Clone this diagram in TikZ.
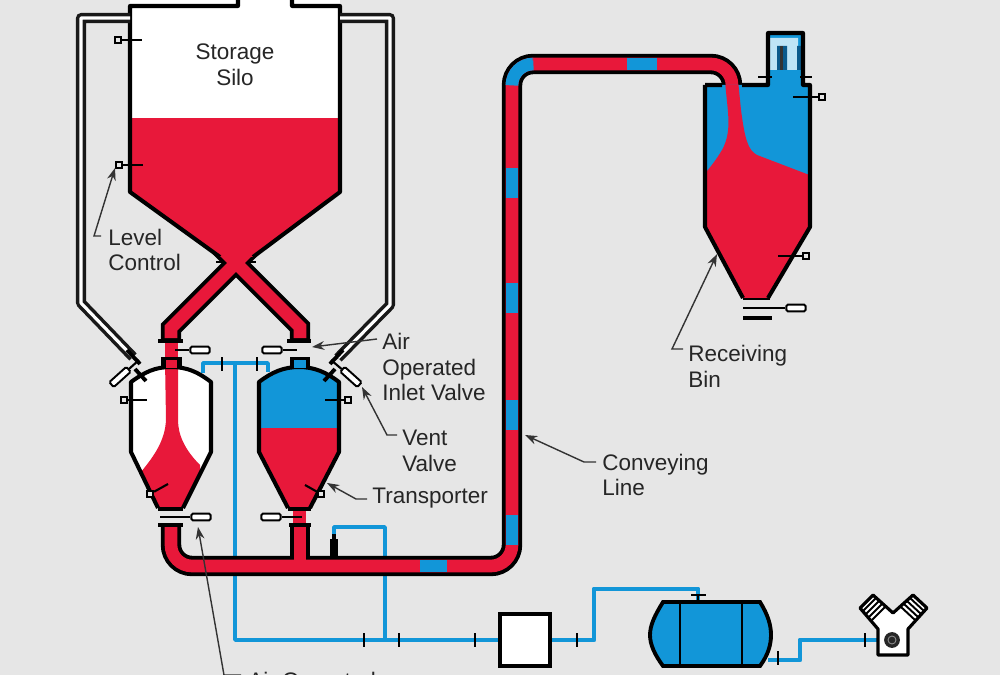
\documentclass[tikz,border=0pt]{standalone}
\usepackage{fontspec}
\setmainfont{Liberation Sans}
\usepackage{xcolor}
\usetikzlibrary{arrows.meta}
\definecolor{panelgray}{RGB}{230,230,230}
\definecolor{solidsred}{RGB}{232,24,58}
\definecolor{airblue}{RGB}{18,150,216}
\definecolor{filterblue}{RGB}{190,228,246}
\definecolor{darkblue}{RGB}{10,90,140}

\begin{document}
\begin{tikzpicture}[x=0.02cm,y=-0.02cm,
    pipeouter/.style={line width=11.6pt,black,line join=miter},
    pipeinner/.style={line width=7.2pt,solidsred,line join=miter},
    pipeair/.style={line width=7.2pt,airblue},
    ventouter/.style={line width=5.8pt,black!90,line join=round},
    ventinner/.style={line width=1.8pt,white,line join=round},
    wall/.style={draw=black,line width=2.3pt,line join=round},
    flange/.style={line width=2.2pt,black},
    rod/.style={line width=1.2pt,black},
    airline/.style={line width=2pt,airblue,line join=round},
    airmain/.style={line width=2.8pt,airblue,line join=round},
    breakmark/.style={rectangle,fill=black,minimum width=1.4pt,minimum height=8.5pt,inner sep=0pt},
    valvebox/.style={rectangle,draw,fill=white,line width=1.1pt,rounded corners=0.8pt,minimum width=11pt,minimum height=3.8pt,inner sep=0pt},
    sensorbox/.style={rectangle,draw,fill=panelgray,line width=1.1pt,minimum size=3.6pt,inner sep=0pt},
    label/.style={font=\fontsize{12.8}{14.7}\selectfont,align=left,anchor=west,inner sep=0pt,text=black!85},
    leader/.style={line width=0.8pt,black!80,-{Stealth[length=7pt,width=5pt]}}]

    \useasboundingbox (0,0) rectangle (1000,675);
    \clip (0,0) rectangle (1000,675);
    \fill[panelgray] (0,0) rectangle (1000,675);

    % Air supply
    \coordinate (tanktop) at (698,602);
    \coordinate (tankout) at (768,660);
    \coordinate (compin) at (878,640);
    \coordinate (regtop) at (334,535);
    \node[rectangle,draw=black,fill=white,line width=2.2pt,minimum width=28.5pt,minimum height=30pt,inner sep=0pt] (filterbox) at (525,640) {};
    \draw[airline] (203,373) -- (203,363) -- (268,363) -- (268,372);
    \draw[airline] (235,363) -- (235,640) -- (385,640);
    \draw[airline] (regtop) -- (334,527) -- (385,527) -- (385,640);
    \draw[airmain] (385,640) -- (filterbox.west);
    \draw[airmain] (filterbox.east) -- (594,640) -- (594,589) -- (698,589) -- (tanktop);
    \draw[airmain] (tankout) -- (800,660) -- (800,640) -- (compin);
    \foreach \nm/\xx/\yy in {ba/222/364,bb/257/364,bc/364/640,bd/399/640,be/475/640,bf/577/640,bg/778/658,bh/865/640}
        \node[breakmark] (\nm) at (\xx,\yy) {};

    % Conveying line
    \foreach \linestyle in {pipeouter,pipeinner}{
        \draw[\linestyle,rounded corners=12pt] (171,525) -- (171,566) -- (512,566) -- (512,64) -- (732,64) -- (732,88);
        \draw[\linestyle] (300,525) -- (300,566);
    }
    \foreach \yy in {168,283,400,515}
        \fill[airblue] (505.6,\yy) rectangle (518.4,\yy+30);
    \fill[airblue] (420,559.6) rectangle (447,572.4);
    \fill[airblue] (627,57.6) rectangle (657,70.4);
    \draw[pipeair,rounded corners=12pt] (512,82) -- (512,64) -- (533,64);

    % Storage silo
    \draw[pipeouter] (252,247) -- (171,328) -- (171,340);
    \draw[pipeouter] (220,247) -- (300,327) -- (300,340);
    \begin{scope}
        \clip (130,0) -- (340,0) -- (340,192) -- (253,257) -- (220,257) -- (130,192) -- cycle;
        \fill[white] (130,0) rectangle (340,118);
        \fill[solidsred] (130,118) rectangle (340,270);
    \end{scope}
    \draw[pipeinner] (252,247) -- (171,328) -- (171,338);
    \draw[pipeinner] (220,247) -- (300,327) -- (300,338);
    \draw[wall] (220,257) -- (130,192) -- (130,6) -- (238,6) -- (238,-3);
    \draw[wall] (292,-3) -- (292,6) -- (340,6) -- (340,192) -- (253,257);
    \node[label,align=center,anchor=center] (silo) at (235,65) {Storage\\Silo};
    \draw[rod] (216,262) -- (223,262) (249,262) -- (256,262);

    % Vent lines
    \foreach \linestyle in {ventouter,ventinner}{
        \draw[\linestyle] (130,18) -- (81,18) -- (81,303) -- (133,357);
        \draw[\linestyle] (340,18) -- (390,18) -- (390,305) -- (338,358);
    }

    % Left transporter
    \begin{scope}
        \clip (131,452) -- (131,382) .. controls (145,372) and (155,367) .. (171,367) .. controls (187,367) and (198,372) .. (211,382) -- (211,452) -- (183,508) -- (158,508) -- cycle;
        \fill[white] (125,360) rectangle (215,510);
        \fill[solidsred] (165,360) -- (166,420) .. controls (165,440) and (155,455) .. (141,472) -- (141,510) -- (200,510) -- (200,465) .. controls (185,450) and (178,435) .. (178,420) -- (178,360) -- cycle;
    \end{scope}
    \draw[wall] (158,508) -- (131,452) -- (131,382) .. controls (145,372) and (155,367) .. (171,367) .. controls (187,367) and (198,372) .. (211,382) -- (211,452) -- (183,508);

    % Right transporter
    \begin{scope}
        \clip (259,452) -- (259,382) .. controls (272,372) and (284,367) .. (299,367) .. controls (314,367) and (326,372) .. (339,382) -- (339,452) -- (310,508) -- (288,508) -- cycle;
        \fill[airblue] (255,360) rectangle (345,428);
        \fill[solidsred] (255,428) rectangle (345,510);
    \end{scope}
    \draw[wall] (288,508) -- (259,452) -- (259,382) .. controls (272,372) and (284,367) .. (299,367) .. controls (314,367) and (326,372) .. (339,382) -- (339,452) -- (310,508);

    % Transporter valves
    \fill[solidsred] (165,340) rectangle (178,368);
    \fill[black] (161,357) rectangle (182,368);
    \fill[solidsred] (166,360) rectangle (177,368);
    \fill[black] (290,357) rectangle (310,368);
    \fill[airblue] (294,360) rectangle (306,368);
    \fill[solidsred] (293,508) rectangle (306,527);
    \foreach \xa/\xb/\yy in {158/183/341,287/311/341,158/183/509,158/183/525,288/311/509,289/311/525,743/770/298,743/772/318}
        \draw[flange] (\xa,\yy) -- (\xb,\yy);
    \foreach \nm/\xx/\yy/\tx in {va/200/350/175,vb/272/350/297,vc/201/517/160,vd/271/517/302,ve/796/308/743}{
        \node[valvebox] (\nm) at (\xx,\yy) {};
        \coordinate (\nm rod) at (\tx,\yy);
        \draw[rod] (\nm) -- (\nm rod);
    }

    % Regulator
    \fill[black] (330,539) rectangle (338,557);
    \fill[black] (332,534) rectangle (336,539);

    % Vent valves
    \node[valvebox,rotate=42,minimum width=13pt] (ventl) at (120,377) {};
    \node[valvebox,rotate=-42,minimum width=13pt] (ventr) at (351,377) {};
    \draw[rod] (ventl) -- (139,360);
    \draw[rod] (ventr) -- (331,360);
    \draw[flange] (127,350) -- (140,364) (135,369) -- (146,381);
    \draw[flange] (343,350) -- (330,364) (335,369) -- (324,381);

    % Receiving bin
    \begin{scope}
        \clip (705,85) -- (768,85) -- (768,33) -- (803,33) -- (803,85) -- (810,85) -- (810,227) -- (768,298) -- (743,298) -- (705,227) -- cycle;
        \fill[airblue] (700,30) rectangle (815,300);
        \fill[solidsred] (725,80) .. controls (727,110) and (733,130) .. (722,150) .. controls (716,160) and (712,165) .. (703,176) -- (703,300) -- (812,300) -- (812,176) -- (757,155) .. controls (748,150) and (745,140) .. (741,110) -- (738,80) -- cycle;
    \end{scope}
    \fill[filterblue] (770,38) rectangle (798,46) (770,46) rectangle (777,70) (787,46) rectangle (797,70);
    \fill[darkblue] (777,46) rectangle (787,70) (797,46) rectangle (801,70);
    \fill[black!80] (780,46) rectangle (783,70);
    \draw[wall] (705,85) -- (722,85) (742,85) -- (768,85) -- (768,33) -- (803,33) -- (803,85) -- (810,85) -- (810,227) -- (768,298) (743,298) -- (705,227) -- (705,85);
    \draw[rod] (758,77) -- (772,77) (800,77) -- (812,77);

    % Level sensors
    \foreach \nm/\xx/\yy/\tx/\ty in {sa/118/40/142/40,sb/119/165/143/165,sc/124/400/147/400,sd/348/400/325/400,se/150/494/168/484,sf/321/494/305/485,sg/822/97/793/97,sh/806/256/778/256}{
        \node[sensorbox] (\nm) at (\xx,\yy) {};
        \coordinate (\nm end) at (\tx,\ty);
        \draw[rod] (\nm) -- (\nm end);
    }

    % Tank
    \fill[airblue,draw=black,line width=2.2pt] (663,602) -- (760,602) .. controls (768,615) and (771,625) .. (771,635) .. controls (771,645) and (768,655) .. (760,666) -- (663,666) .. controls (655,655) and (650,645) .. (650,635) .. controls (650,625) and (655,615) .. (663,602) -- cycle;
    \draw[line width=1.6pt] (680,602) -- (680,666) (742,602) -- (742,666);
    \draw[line width=1.6pt] (691,595) -- (706,595);
    \draw[line width=1.6pt] (698,595) -- (698,602);

    % Compressor
    \draw[line width=1.8pt,fill=white,line join=round] (878,655) -- (908,655) -- (908,629) -- (927,608) -- (913,595) -- (893,613) -- (873,595) -- (860,608) -- (878,629) -- cycle;
    \foreach \dd in {3,6,9,12}{
        \draw[line width=1.1pt] (860+\dd,608+\dd) -- (873+\dd,595+\dd);
        \draw[line width=1.1pt] (927-\dd,608+\dd) -- (913-\dd,595+\dd);
    }
    \node[circle,fill=black!85,minimum size=9pt,inner sep=0pt] (crank) at (892,640) {};
    \draw[line width=0.5pt,black!45] (crank) circle (4);

    % Labels
    \node[label] (levelctl) at (108,250) {Level\\Control};
    \node[label] (inletlbl) at (382,367) {Air\\Operated\\Inlet Valve};
    \node[label] (ventlbl) at (402,451) {Vent\\Valve};
    \node[label] (transplbl) at (372,498) {Transporter};
    \node[label] (convlbl) at (602,475) {Conveying\\Line};
    \node[label] (binlbl) at (688,366) {Receiving\\Bin};
    \node[label,anchor=base west] (dischlbl) at (248,688) {Air Operated};

    % Leaders
    \coordinate (levelstart) at (101,236);
    \coordinate (levelbend) at (94,236);
    \coordinate (leveltip) at (115,168);
    \draw[leader] (levelstart) -- (levelbend) -- (leveltip);
    \coordinate (inletstart) at (377,339);
    \coordinate (inlettip) at (312,347);
    \draw[leader] (inletstart) -- (inlettip);
    \coordinate (ventstart) at (397,435);
    \coordinate (ventbend) at (387,435);
    \coordinate (venttip) at (362,387);
    \draw[leader] (ventstart) -- (ventbend) -- (venttip);
    \coordinate (transpstart) at (367,499);
    \coordinate (transpbend) at (356,499);
    \coordinate (transptip) at (327,483);
    \draw[leader] (transpstart) -- (transpbend) -- (transptip);
    \coordinate (convstart) at (596,462);
    \coordinate (convbend) at (584,462);
    \coordinate (convtip) at (525,435);
    \draw[leader] (convstart) -- (convbend) -- (convtip);
    \coordinate (binstart) at (683,349);
    \coordinate (binbend) at (672,349);
    \coordinate (bintip) at (717,254);
    \draw[leader] (binstart) -- (binbend) -- (bintip);
    \coordinate (dischstart) at (241,675);
    \coordinate (dischbend) at (224,675);
    \coordinate (dischtip) at (198,527);
    \draw[leader] (dischstart) -- (dischbend) -- (dischtip);
\end{tikzpicture}
\end{document}
